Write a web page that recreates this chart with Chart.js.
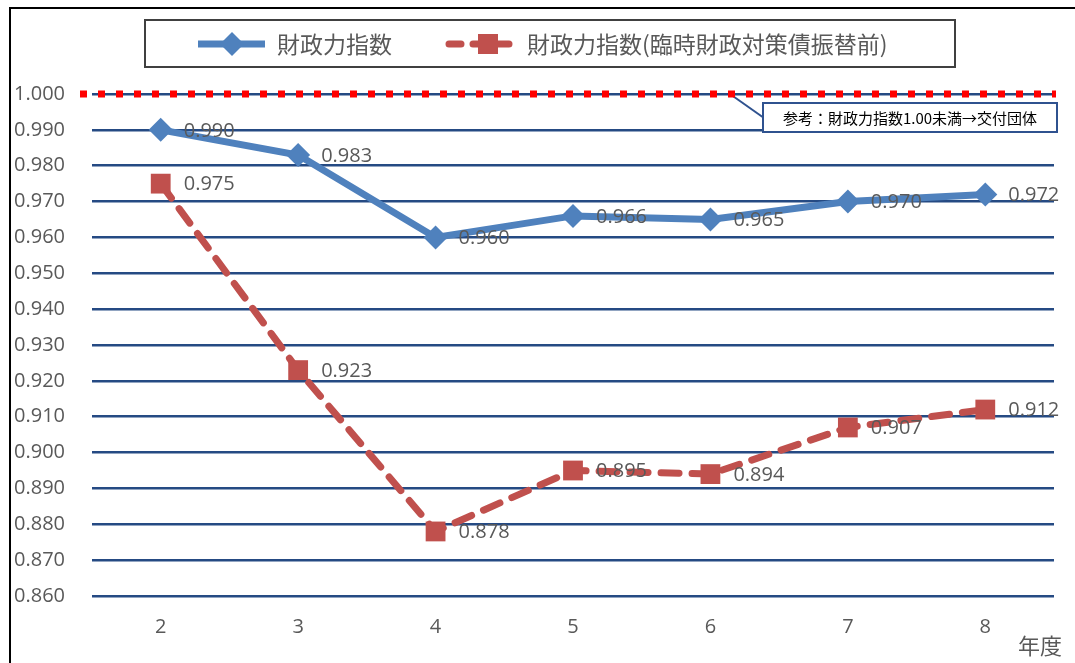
<!DOCTYPE html>
<html>
<head>
<meta charset="utf-8">
<script src="https://cdn.jsdelivr.net/npm/chart.js@4/dist/chart.umd.min.js"></script>
<style>
  body { margin: 0; background: #fff; }
  #wrap { width: 1075px; height: 663px; }
</style>
</head>
<body>
<div id="wrap"><canvas id="chart" width="1075" height="663"></canvas></div>
<script>
const years = ['2', '3', '4', '5', '6', '7', '8'];
const indexValues = [0.990, 0.983, 0.960, 0.966, 0.965, 0.970, 0.972];
const beforeTransfer = [0.975, 0.923, 0.878, 0.895, 0.894, 0.907, 0.912];
const seriesNames = ['財政力指数', '財政力指数(臨時財政対策債振替前)'];
const referenceValue = 1.0;
const referenceNote = '参考：財政力指数1.00未満→交付団体';
const axisTitle = '年度';

const BLUE = '#4F81BD';
const RED = '#C0504D';
const GRID = '#254A83';
const TEXT = '#595959';
const JP = '"Noto Sans CJK JP", "Noto Sans", sans-serif';
const NUM = '"Open Sans", "Noto Sans", sans-serif';

// frame, reference line, legend box, note, labels
const decorations = {
    id: 'decorations',
    beforeDatasetsDraw(chart) {
        const ctx = chart.ctx;
        const y = chart.scales.y.getPixelForValue(referenceValue);
        ctx.save();
        // connector to note box
        ctx.strokeStyle = '#2F528F';
        ctx.lineWidth = 2;
        ctx.beginPath();
        ctx.moveTo(730, y);
        ctx.lineTo(764, 118);
        ctx.stroke();
        // red dotted reference line
        ctx.strokeStyle = '#FF0000';
        ctx.lineWidth = 7;
        ctx.setLineDash([7, 11]);
        ctx.beginPath();
        ctx.moveTo(80, y);
        ctx.lineTo(1056, y);
        ctx.stroke();
        ctx.restore();
    },
    afterDatasetsDraw(chart) {
        const ctx = chart.ctx;
        ctx.save();
        // data labels
        ctx.font = '20px ' + NUM;
        ctx.fillStyle = TEXT;
        ctx.textAlign = 'left';
        ctx.textBaseline = 'middle';
        chart.data.datasets.forEach((ds, i) => {
            chart.getDatasetMeta(i).data.forEach((pt, j) => {
                ctx.fillText(ds.data[j].toFixed(3), pt.x + 23, pt.y + 1);
            });
        });

        // note box
        ctx.fillStyle = '#fff';
        ctx.fillRect(763, 103, 294, 29);
        ctx.strokeStyle = '#2F528F';
        ctx.lineWidth = 2;
        ctx.strokeRect(763, 103, 294, 29);
        ctx.fillStyle = '#000';
        ctx.font = '15px ' + JP;
        ctx.textAlign = 'center';
        ctx.fillText(referenceNote, 910, 118);

        // axis title
        ctx.fillStyle = TEXT;
        ctx.font = '22px ' + JP;
        ctx.textAlign = 'left';
        ctx.fillText(axisTitle, 1018, 646);

        // frame
        ctx.strokeStyle = '#000';
        ctx.lineWidth = 2;
        ctx.beginPath();
        ctx.moveTo(10, 663);
        ctx.lineTo(10, 8);
        ctx.lineTo(1075, 8);
        ctx.stroke();

        // legend
        ctx.strokeStyle = '#404040';
        ctx.lineWidth = 2;
        ctx.strokeRect(145, 20, 810, 47);
        const ly = 44;
        ctx.strokeStyle = BLUE;
        ctx.lineWidth = 7;
        ctx.beginPath();
        ctx.moveTo(198, ly);
        ctx.lineTo(265, ly);
        ctx.stroke();
        ctx.fillStyle = BLUE;
        ctx.beginPath();
        ctx.moveTo(232, ly - 12);
        ctx.lineTo(244, ly);
        ctx.lineTo(232, ly + 12);
        ctx.lineTo(220, ly);
        ctx.closePath();
        ctx.fill();
        ctx.strokeStyle = RED;
        ctx.lineCap = 'round';
        ctx.setLineDash([12, 12]);
        ctx.beginPath();
        ctx.moveTo(449, ly);
        ctx.lineTo(520, ly);
        ctx.stroke();
        ctx.setLineDash([]);
        ctx.fillStyle = RED;
        ctx.fillRect(478, ly - 10, 20, 20);
        ctx.fillStyle = TEXT;
        ctx.font = '23px ' + JP;
        ctx.textAlign = 'left';
        ctx.fillText(seriesNames[0], 277, ly);
        ctx.fillText(seriesNames[1], 527, ly);
        ctx.restore();
    }
};

new Chart(document.getElementById('chart').getContext('2d'), {
    type: 'line',
    data: {
        labels: years,
        datasets: [{
            label: seriesNames[0],
            data: indexValues,
            borderColor: BLUE,
            backgroundColor: BLUE,
            borderWidth: 7,
            pointStyle: 'rectRot',
            pointRadius: 12,
            pointBorderWidth: 0,
            tension: 0,
            clip: false,
        }, {
            label: seriesNames[1],
            data: beforeTransfer,
            borderColor: RED,
            backgroundColor: RED,
            borderWidth: 7,
            borderDash: [18, 13],
            borderCapStyle: 'round',
            pointStyle: 'rect',
            pointRadius: 14,
            pointBorderWidth: 0,
            tension: 0,
            clip: false,
        }],
    },
    options: {
        responsive: false,
        animation: false,
        layout: { padding: { top: 94, left: 14, right: 21, bottom: 5 } },
        plugins: {
            legend: { display: false },
            tooltip: { enabled: false },
        },
        scales: {
            x: {
                offset: true,
                grid: { display: false, drawTicks: false },
                border: { display: false },
                ticks: { color: TEXT, font: { size: 20, family: NUM }, padding: 19 },
            },
            y: {
                min: 0.86,
                max: 1.0,
                afterFit: (scale) => { scale.width = 78; },
                grid: { color: GRID, lineWidth: 2.5, drawTicks: false },
                border: { display: false },
                ticks: {
                    stepSize: 0.01,
                    crossAlign: 'far',
                    color: TEXT,
                    font: { size: 20, family: NUM },
                    callback: (v) => v.toFixed(3),
                },
            },
        },
    },
    plugins: [decorations],
});
</script>
</body>
</html>
